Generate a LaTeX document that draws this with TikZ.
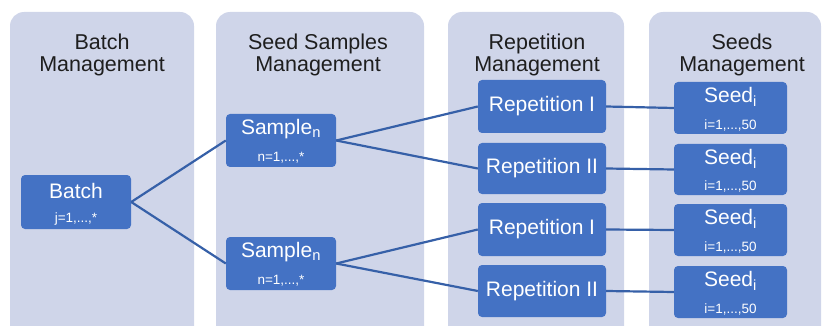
\documentclass[tikz,border=0pt]{standalone}
\usepackage{fontspec}
\setmainfont{Liberation Sans}
\definecolor{lanecol}{HTML}{CFD5E9}
\definecolor{boxcol}{HTML}{4472C4}
\definecolor{wirecol}{HTML}{3660A8}
\definecolor{headcol}{HTML}{1E1E1E}
\begin{document}
\begin{tikzpicture}[x=1pt,y=-1pt,
 lanebox/.style={fill=lanecol, rounded corners=14pt},
 heading/.style={font=\fontsize{21.5}{22}\selectfont, text=headcol, align=center, inner sep=0},
 card/.style={fill=boxcol, rounded corners=4pt, draw=none, inner sep=0},
 maintext/.style={text=white, font=\fontsize{21}{22}\selectfont, inner sep=0},
 subtext/.style={text=white, font=\fontsize{13.5}{15}\selectfont, inner sep=0},
 link/.style={draw=wirecol, line width=2.2pt}]
\useasboundingbox (0,0) rectangle (822,326);
\begin{scope}
\clip (0,0) rectangle (822,326);
\fill[lanebox] (10,12) rectangle (194,350);
\fill[lanebox] (216,12) rectangle (424,350);
\fill[lanebox] (448,12) rectangle (624,350);
\fill[lanebox] (649,12) rectangle (821,350);
\end{scope}
% headings
\node[heading] (h1) at (102,55) {Batch\\Management};
\node[heading] (h2) at (318,55) {Seed Samples\\Management};
\node[heading] (h3) at (537,55) {Repetition\\Management};
\node[heading] (h4) at (742,55) {Seeds\\Management};
% cards
\node[card, minimum width=110pt, minimum height=54pt] (batch) at (76,202) {};
\node[maintext] (batcht) at (76,191) {Batch};
\node[subtext] (batchs) at (76,219) {j=1,...,*};

\node[card, minimum width=110pt, minimum height=53pt] (s1) at (281,140.5) {};
\node[maintext] (s1t) at (281,129) {Sample\textsubscript{n}};
\node[subtext] (s1s) at (281,158) {n=1,...,*};
\node[card, minimum width=110pt, minimum height=53pt] (s2) at (281,263.5) {};
\node[maintext] (s2t) at (281,252) {Sample\textsubscript{n}};
\node[subtext] (s2s) at (281,281) {n=1,...,*};

\node[card, minimum width=128pt, minimum height=53pt] (r1) at (542,106.5) {};
\node[maintext] (r1t) at (542,106) {Repetition I};
\node[card, minimum width=128pt, minimum height=51pt] (r2) at (542,168.5) {};
\node[maintext] (r2t) at (542,168) {Repetition II};
\node[card, minimum width=128pt, minimum height=53pt] (r3) at (542,229.5) {};
\node[maintext] (r3t) at (542,229) {Repetition I};
\node[card, minimum width=128pt, minimum height=52pt] (r4) at (542,291) {};
\node[maintext] (r4t) at (542,291) {Repetition II};

\node[card, minimum width=113pt, minimum height=52pt] (d1) at (730.5,108) {};
\node[maintext] (d1t) at (730.5,97) {Seed\textsubscript{i}};
\node[subtext] (d1s) at (730.5,125) {i=1,...,50};
\node[card, minimum width=113pt, minimum height=51pt] (d2) at (730.5,169.5) {};
\node[maintext] (d2t) at (730.5,159) {Seed\textsubscript{i}};
\node[subtext] (d2s) at (730.5,186) {i=1,...,50};
\node[card, minimum width=113pt, minimum height=52pt] (d3) at (730.5,230) {};
\node[maintext] (d3t) at (730.5,219) {Seed\textsubscript{i}};
\node[subtext] (d3s) at (730.5,247) {i=1,...,50};
\node[card, minimum width=113pt, minimum height=52pt] (d4) at (730.5,292) {};
\node[maintext] (d4t) at (730.5,281) {Seed\textsubscript{i}};
\node[subtext] (d4s) at (730.5,309) {i=1,...,50};
% connectors
\draw[link] (batch.east) -- (s1.west);
\draw[link] (batch.east) -- (s2.west);
\draw[link] (s1.east) -- (r1.west);
\draw[link] (s1.east) -- (r2.west);
\draw[link] (s2.east) -- (r3.west);
\draw[link] (s2.east) -- (r4.west);
\draw[link] (r1.east) -- (d1.west);
\draw[link] (r2.east) -- (d2.west);
\draw[link] (r3.east) -- (d3.west);
\draw[link] (r4.east) -- (d4.west);
\end{tikzpicture}
\end{document}
